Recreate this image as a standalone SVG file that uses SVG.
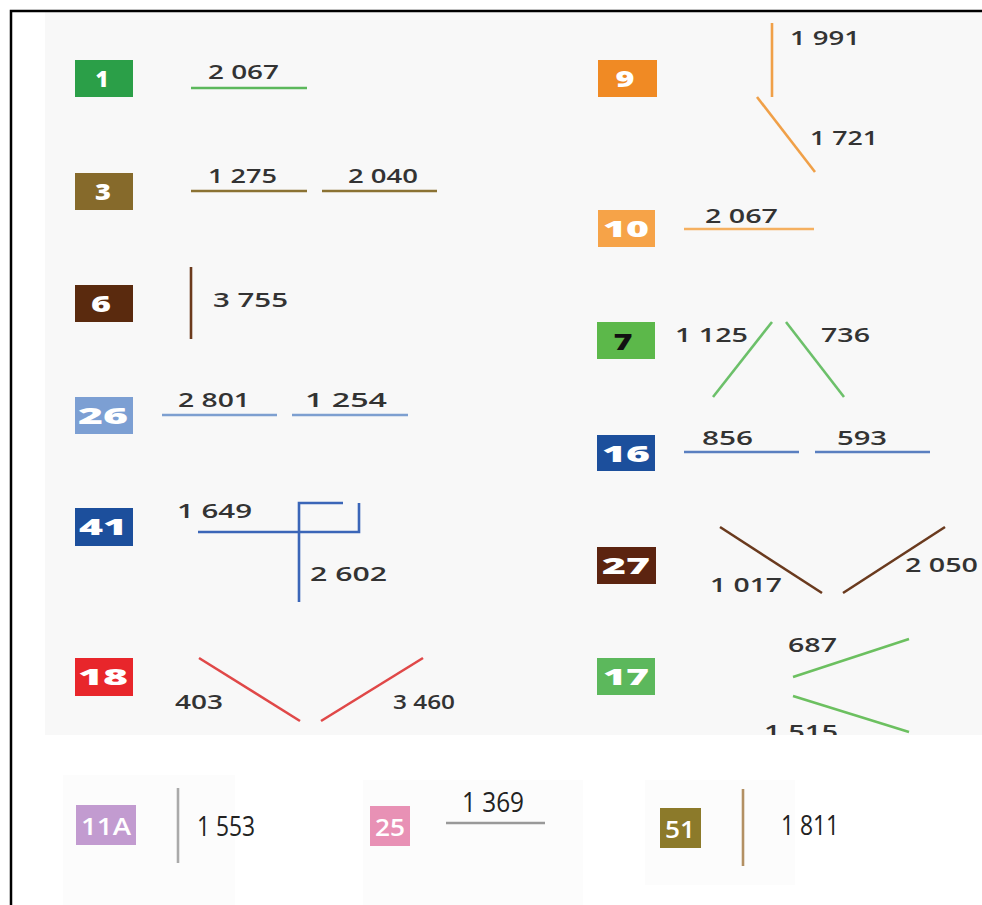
<svg xmlns="http://www.w3.org/2000/svg" width="982" height="905" viewBox="0 0 982 905">
<defs>
<style>
.lbl{font-family:"Open Sans","DejaVu Sans",sans-serif;font-weight:600;font-size:20px;fill:#333}
.bt{font-family:"Open Sans","DejaVu Sans",sans-serif;font-weight:800;font-size:23px;fill:#fff;text-anchor:middle}
.nl{font-family:"Open Sans","Liberation Sans",sans-serif;font-weight:400;font-size:27px;fill:#222}
.nb{font-family:"Open Sans","Liberation Sans",sans-serif;font-weight:600;font-size:24px;fill:#fff;text-anchor:middle}
line{stroke-width:2.6;fill:none}
</style>
<clipPath id="panel"><rect x="45" y="12" width="937" height="723"/></clipPath>
</defs>
<rect x="0" y="0" width="982" height="905" fill="#ffffff"/>
<rect x="45" y="12" width="937" height="723" fill="#f8f8f8"/>
<rect x="63" y="775" width="172" height="130" fill="#fcfcfc"/>
<rect x="363" y="780" width="220" height="125" fill="#fcfcfc"/>
<rect x="645" y="780" width="150" height="105" fill="#fcfcfc"/>
<path d="M11 905 V11 H982" fill="none" stroke="#000" stroke-width="2.5"/>

<g id="n1">
<rect x="75" y="60" width="58" height="37" fill="#2b9f48"/>
<text class="bt" x="102" y="87" textLength="13" lengthAdjust="spacingAndGlyphs">1</text>
<line x1="191" y1="88" x2="307" y2="88" stroke="#5cb85c"/>
<text class="lbl" x="208" y="79" textLength="71" lengthAdjust="spacingAndGlyphs">2 067</text>
</g>
<g id="n3">
<rect x="75" y="173" width="58" height="37" fill="#866a2b"/>
<text class="bt" x="103" y="200" textLength="16" lengthAdjust="spacingAndGlyphs">3</text>
<line x1="191" y1="191" x2="307" y2="191" stroke="#8b7233"/>
<line x1="322" y1="191" x2="437" y2="191" stroke="#8b7233"/>
<text class="lbl" x="208" y="183" textLength="69" lengthAdjust="spacingAndGlyphs">1 275</text>
<text class="lbl" x="348" y="183" textLength="70" lengthAdjust="spacingAndGlyphs">2 040</text>
</g>
<g id="n6">
<rect x="75" y="285" width="58" height="37" fill="#5a2a0e"/>
<text class="bt" x="101" y="312" textLength="20" lengthAdjust="spacingAndGlyphs">6</text>
<line x1="191" y1="267" x2="191" y2="339" stroke="#6b3a1c" stroke-width="3"/>
<text class="lbl" x="213" y="307" textLength="75" lengthAdjust="spacingAndGlyphs">3 755</text>
</g>
<g id="n26">
<rect x="75" y="397" width="58" height="37" fill="#7c9fd3"/>
<text class="bt" x="103" y="424" textLength="50" lengthAdjust="spacingAndGlyphs">26</text>
<line x1="162" y1="415" x2="277" y2="415" stroke="#7d9fd0"/>
<line x1="292" y1="415" x2="408" y2="415" stroke="#7d9fd0"/>
<text class="lbl" x="178" y="407" textLength="72" lengthAdjust="spacingAndGlyphs">2 801</text>
<text class="lbl" x="305" y="407" textLength="82" lengthAdjust="spacingAndGlyphs">1 254</text>
</g>
<g id="n41">
<rect x="75" y="508" width="58" height="38" fill="#1c4f9c"/>
<text class="bt" x="103" y="535" textLength="48" lengthAdjust="spacingAndGlyphs">41</text>
<path d="M198 532 H359 V503 M343 503 H299 V602" fill="none" stroke="#3b66b8" stroke-width="2.6"/>
<text class="lbl" x="177" y="518" textLength="75" lengthAdjust="spacingAndGlyphs">1 649</text>
<text class="lbl" x="310" y="581" textLength="77" lengthAdjust="spacingAndGlyphs">2 602</text>
</g>
<g id="n18">
<rect x="75" y="658" width="58" height="38" fill="#e8262b"/>
<text class="bt" x="103" y="685" textLength="50" lengthAdjust="spacingAndGlyphs">18</text>
<line x1="199" y1="658" x2="300" y2="721" stroke="#e04848"/>
<line x1="321" y1="721" x2="423" y2="658" stroke="#e04848"/>
<text class="lbl" x="175" y="709" textLength="48" lengthAdjust="spacingAndGlyphs">403</text>
<text class="lbl" x="393" y="709" textLength="62" lengthAdjust="spacingAndGlyphs">3 460</text>
</g>

<g id="n9">
<rect x="598" y="60" width="59" height="37" fill="#f08a24"/>
<text class="bt" x="625" y="87" textLength="19" lengthAdjust="spacingAndGlyphs">9</text>
<line x1="772" y1="23" x2="772" y2="97" stroke="#f0a048" stroke-width="3"/>
<line x1="757" y1="97" x2="815" y2="172" stroke="#f0a048" stroke-width="3"/>
<text class="lbl" x="790" y="45" textLength="70" lengthAdjust="spacingAndGlyphs">1 991</text>
<text class="lbl" x="810" y="145" textLength="68" lengthAdjust="spacingAndGlyphs">1 721</text>
</g>
<g id="n10">
<rect x="598" y="210" width="57" height="37" fill="#f6a348"/>
<text class="bt" x="626" y="237" textLength="46" lengthAdjust="spacingAndGlyphs">10</text>
<line x1="684" y1="229" x2="814" y2="229" stroke="#f5b060"/>
<text class="lbl" x="705" y="223" textLength="73" lengthAdjust="spacingAndGlyphs">2 067</text>
</g>
<g id="n7">
<rect x="597" y="322" width="58" height="37" fill="#5cb84a"/>
<text class="bt" x="623" y="350" textLength="19" lengthAdjust="spacingAndGlyphs" style="fill:#111">7</text>
<line x1="713" y1="397" x2="772" y2="322" stroke="#6cc06a"/>
<line x1="786" y1="322" x2="844" y2="397" stroke="#6cc06a"/>
<text class="lbl" x="675" y="342" textLength="73" lengthAdjust="spacingAndGlyphs">1 125</text>
<text class="lbl" x="821" y="342" textLength="49" lengthAdjust="spacingAndGlyphs">736</text>
</g>
<g id="n16">
<rect x="597" y="435" width="58" height="36" fill="#1c4f9c"/>
<text class="bt" x="626" y="462" textLength="48" lengthAdjust="spacingAndGlyphs">16</text>
<line x1="684" y1="452" x2="799" y2="452" stroke="#5a7fc0"/>
<line x1="815" y1="452" x2="930" y2="452" stroke="#5a7fc0"/>
<text class="lbl" x="702" y="445" textLength="51" lengthAdjust="spacingAndGlyphs">856</text>
<text class="lbl" x="837" y="445" textLength="50" lengthAdjust="spacingAndGlyphs">593</text>
</g>
<g id="n27">
<rect x="597" y="547" width="59" height="37" fill="#5c2410"/>
<text class="bt" x="626" y="574" textLength="48" lengthAdjust="spacingAndGlyphs">27</text>
<line x1="720" y1="527" x2="822" y2="593" stroke="#6a3a1e"/>
<line x1="843" y1="593" x2="945" y2="527" stroke="#6a3a1e"/>
<text class="lbl" x="710" y="592" textLength="72" lengthAdjust="spacingAndGlyphs">1 017</text>
<text class="lbl" x="905" y="572" textLength="73" lengthAdjust="spacingAndGlyphs">2 050</text>
</g>
<g id="n17" clip-path="url(#panel)">
<rect x="597" y="658" width="58" height="37" fill="#5cb85c"/>
<text class="bt" x="626" y="685" textLength="46" lengthAdjust="spacingAndGlyphs">17</text>
<line x1="793" y1="677" x2="909" y2="639" stroke="#6cc060"/>
<line x1="793" y1="696" x2="909" y2="732" stroke="#6cc060"/>
<text class="lbl" x="788" y="652" textLength="49" lengthAdjust="spacingAndGlyphs">687</text>
<text class="lbl" x="764" y="739" textLength="74" lengthAdjust="spacingAndGlyphs">1 515</text>
</g>

<g id="n11A">
<rect x="76" y="805" width="60" height="40" fill="#c29bd0"/>
<text class="nb" x="106" y="835" textLength="50" lengthAdjust="spacingAndGlyphs">11A</text>
<line x1="178" y1="788" x2="178" y2="863" stroke="#aaaaaa" stroke-width="2"/>
<text class="nl" x="197" y="836" textLength="58" lengthAdjust="spacingAndGlyphs">1 553</text>
</g>
<g id="n25">
<rect x="370" y="806" width="40" height="40" fill="#e891b5"/>
<text class="nb" x="390" y="836" textLength="30" lengthAdjust="spacingAndGlyphs">25</text>
<line x1="446" y1="823" x2="545" y2="823" stroke="#999999" stroke-width="2"/>
<text class="nl" x="462" y="812" textLength="62" lengthAdjust="spacingAndGlyphs">1 369</text>
</g>
<g id="n51">
<rect x="660" y="808" width="41" height="40" fill="#8c7a2a"/>
<text class="nb" x="680" y="838" textLength="30" lengthAdjust="spacingAndGlyphs">51</text>
<line x1="743" y1="789" x2="743" y2="866" stroke="#b39063" stroke-width="2.5"/>
<text class="nl" x="781" y="835" textLength="58" lengthAdjust="spacingAndGlyphs">1 811</text>
</g>
</svg>
